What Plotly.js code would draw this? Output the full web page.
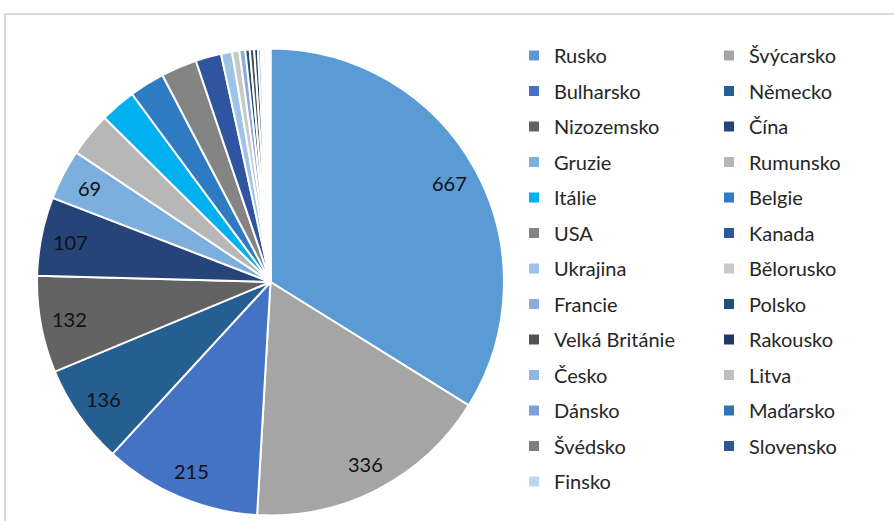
<!DOCTYPE html>
<html>
<head>
<meta charset="utf-8">
<script src="https://cdn.plot.ly/plotly-3.0.1.min.js"></script>
<style>
  html, body { margin: 0; padding: 0; background: #ffffff; overflow: hidden; }
  #frame { position: absolute; left: 4px; top: 13px; width: 1000px; height: 700px; border: 2px solid #d9d9d9; box-sizing: border-box; }
  #chart { position: absolute; left: 0; top: 0; width: 894px; height: 521px; }
</style>
</head>
<body>
<div id="frame"></div>
<div id="chart"></div>
<script>
const countries = ["Rusko", "Švýcarsko", "Bulharsko", "Německo", "Nizozemsko", "Čína", "Gruzie", "Rumunsko", "Itálie", "Belgie", "USA", "Kanada", "Ukrajina", "Bělorusko", "Francie", "Polsko", "Velká Británie", "Rakousko", "Česko", "Litva", "Dánsko", "Maďarsko", "Švédsko", "Slovensko", "Finsko"];
const counts = [667, 336, 215, 136, 132, 107, 69, 60, 49, 48, 49, 35, 15, 10, 8, 6, 6, 5, 4, 3, 3, 2, 2, 2, 1];
const sliceColors = ["#5B9BD5", "#A5A5A5", "#4472C4", "#255E91", "#636363", "#264478", "#7CAFDD", "#B7B7B7", "#00B0F0", "#2E7BC4", "#848484", "#2F55A0", "#9DC3E6", "#C9C9C9", "#8FAADC", "#1F4E79", "#525252", "#203864", "#8DB9E2", "#BFBFBF", "#7F9FD9", "#2E75B6", "#7F7F7F", "#2F5597", "#BDD7EE"];
const labelThreshold = 60;
const labelledCount = 7;

// geometry of the figure (pixels)
const W = 894, H = 521, marginR = 390;
const plotW = W - marginR;
const pieLeft = 37, pieRight = 505, pieTop = 48, pieBottom = 516;
const cx = (pieLeft + pieRight) / 2, cy = (pieTop + pieBottom) / 2;
const R = (pieRight - pieLeft) / 2;
const labelRadius = 0.875;

const legendNames = countries.map(c => '<span style="font-size:20px;baseline-shift:2.5px">' + c + '</span>');

const total = counts.reduce((a, b) => a + b, 0);
const annotations = [];
let cum = 0;
counts.forEach((v, i) => {
  const mid = (cum + v / 2) / total * 2 * Math.PI;
  cum += v;
  if (i >= labelledCount) return;
  const px = cx + labelRadius * R * Math.sin(mid);
  const py = cy - labelRadius * R * Math.cos(mid);
  annotations.push({
    xref: "paper", yref: "paper",
    x: px / plotW, y: 1 - py / H,
    xanchor: "center", yanchor: "middle",
    text: String(v), showarrow: false,
    font: { family: "Lato, 'Open Sans', sans-serif", size: 20, color: "#111111" }
  });
});

const trace = {
  type: "pie",
  labels: legendNames,
  values: counts,
  textinfo: "none",
  sort: false,
  direction: "clockwise",
  rotation: 0,
  marker: { colors: sliceColors, line: { color: "#ffffff", width: 2 } },
  domain: { x: [pieLeft / plotW, pieRight / plotW], y: [1 - pieBottom / H, 1 - pieTop / H] },
  hoverinfo: "none"
};

const layout = {
  width: W,
  height: H,
  margin: { l: 0, r: marginR, t: 0, b: 0, autoexpand: false },
  paper_bgcolor: "rgba(0,0,0,0)",
  plot_bgcolor: "rgba(0,0,0,0)",
  showlegend: true,
  annotations: annotations,
  legend: {
    orientation: "h",
    x: 514 / plotW,
    xanchor: "left",
    y: 1 - 32.75 / H,
    yanchor: "top",
    entrywidth: 150,
    maxheight: 500,
    traceorder: "normal",
    font: { family: "Lato, 'Open Sans', sans-serif", size: 25, color: "#262626" },
    bgcolor: "rgba(0,0,0,0)"
  }
};

Plotly.newPlot("chart", [trace], layout, { displayModeBar: false, staticPlot: true });
</script>
</body>
</html>
